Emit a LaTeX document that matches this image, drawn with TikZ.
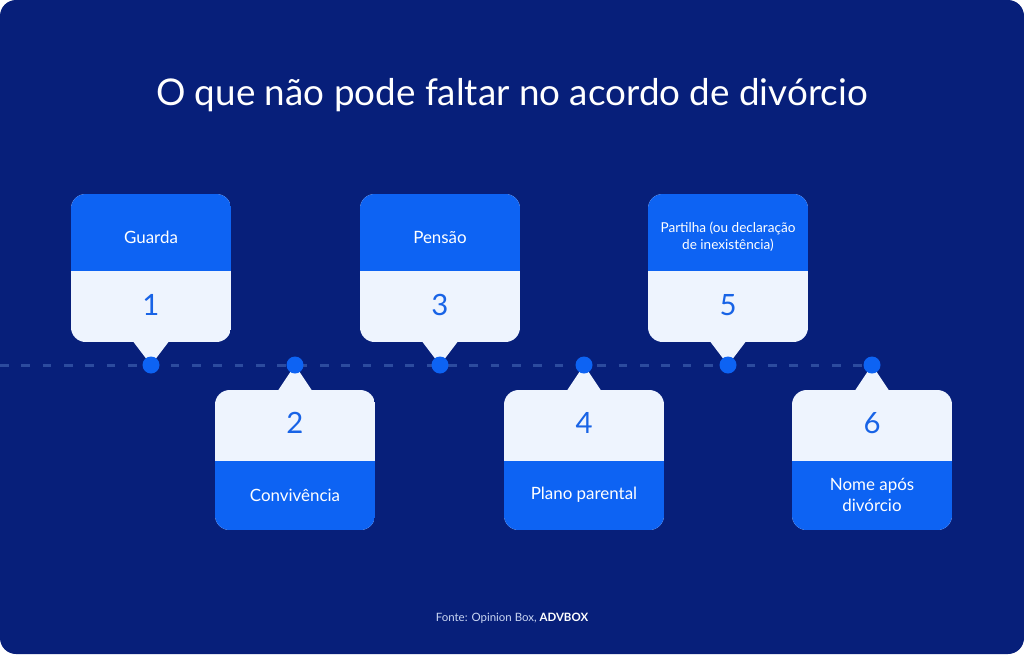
\documentclass[tikz,border=0pt]{standalone}
\usepackage{fontspec}
\setmainfont{Lato}
\usetikzlibrary{positioning}
\definecolor{navy}{HTML}{071F7A}
\definecolor{cardblue}{HTML}{0D63F3}
\definecolor{cardlight}{HTML}{EEF4FE}
\definecolor{numblue}{HTML}{1863E6}
\definecolor{dashblue}{HTML}{2C4B9E}
\definecolor{footgray}{HTML}{C9D5F2}
\tikzset{
  dot/.style={circle,fill=cardblue,inner sep=0pt,minimum size=12.75pt},
  lbl/.style={text=white,align=center},
  num/.style={text=numblue,font=\fontsize{22}{26}\selectfont}
}
\begin{document}
\begin{tikzpicture}[x=0.75pt,y=-0.75pt]
\fill[white] (0,0) rectangle (1024,654);
\fill[navy,rounded corners=12pt] (0,0) rectangle (1024,654);
\useasboundingbox (0,0) rectangle (1024,654);
\node[text=white,font=\fontsize{27.6}{34}\selectfont] (title) at (512,95) {O que não pode faltar no acordo de divórcio};
% timeline
\coordinate (start) at (0,365);
\foreach \i/\x in {1/151,2/295,3/440,4/584,5/728,6/872} \coordinate (p\i) at (\x,365);
\draw[dashblue,line width=2.25pt,dash pattern=on 6.5pt off 9.5pt] (start) -- (p6);
% cards above the line
\foreach \i/\x/\fs/\txt in {1/151/12.7/Guarda,3/440/12.7/Pensão,5/728/10.2/{Partilha (ou declaração\\de inexistência)}} {
  \fill[cardlight] (\x-19,340) -- (p\i) -- (\x+19,340) -- cycle;
  \begin{scope}
    \clip[rounded corners=11pt] (\x-80,194) rectangle (\x+80,342);
    \fill[cardlight] (\x-80,194) rectangle (\x+80,342);
    \fill[cardblue] (\x-80,194) rectangle (\x+80,271);
  \end{scope}
  \node[lbl,font=\fontsize{\fs}{12.75}\selectfont] (t\i) at (\x,237) {\txt};
  \node[num] (n\i) at (\x,305) {\i};
  \node[dot] (d\i) at (p\i) {};
}
% cards below the line
\foreach \i/\x/\txt in {2/295/Convivência,4/584/Plano parental,6/872/{Nome após\\divórcio}} {
  \fill[cardlight] (\x-18,392) -- (p\i) -- (\x+18,392) -- cycle;
  \begin{scope}
    \clip[rounded corners=11pt] (\x-80,390) rectangle (\x+80,530);
    \fill[cardlight] (\x-80,390) rectangle (\x+80,530);
    \fill[cardblue] (\x-80,461) rectangle (\x+80,530);
  \end{scope}
  \node[num] (n\i) at (\x,423) {\i};
  \node[lbl,font=\fontsize{12.7}{16}\selectfont] (t\i) at (\x,495) {\txt};
  \node[dot] (d\i) at (p\i) {};
}
\node[text=footgray,font=\fontsize{8.6}{10}\selectfont] (src) at (512,618) {Fonte: Opinion Box, \textcolor{white}{\bfseries ADVBOX}};
\end{tikzpicture}
\end{document}
